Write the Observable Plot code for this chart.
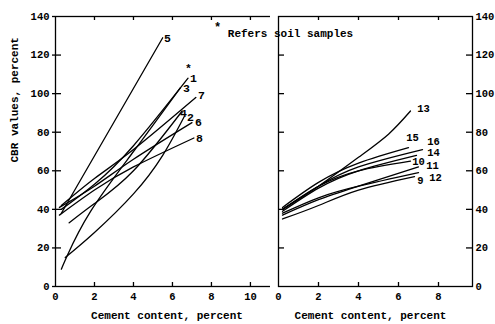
<!DOCTYPE html>
<html><head><meta charset="utf-8">
<script src="https://cdn.jsdelivr.net/npm/d3@7"></script>
<script src="https://cdn.jsdelivr.net/npm/@observablehq/plot@0.6"></script>
<style>
body{margin:0;background:#fff;}
#wrap{position:relative;width:495px;height:324px;font-family:"Liberation Mono","DejaVu Sans Mono",monospace;font-weight:bold;color:#000;}
#left,#right{position:absolute;top:0;}
#left{left:0px}
#right{left:270px}
#note{position:absolute;left:214px;top:28px;font-size:11px;line-height:13px;white-space:nowrap;}
#note span{position:relative;top:-6px;font-size:12px;}
</style></head><body>
<div id="wrap"><div id="left"></div><div id="right"></div>
<div id="note"><span>*</span> Refers soil samples</div></div>
<script>
// ---- Data ----
const leftIds = ["1","2","3","4","5","6","7","8"];
const leftCement = [
  [0.3,2,4,6.8],
  [0.5,2,4,5.5,6.6],
  [0.3,0.6,1.8,4,6.4],
  [0.7,2,4,6.5],
  [0.3,5.5],
  [0.2,2,4,7],
  [0.3,2,4,7.2],
  [0.2,2,4,7.1]
];
const leftCBR = [
  [40,53,73,108],
  [15,28,48,68,88],
  [9,16,39,70,103],
  [33,43,60,91],
  [38,129],
  [41,52,66,85],
  [42,56,71,98],
  [37,50,62,77]
];
const rightIds = ["9","10","11","12","13","14","15","16"];
const rightCement = [
  [0.2,2,4,6.8],
  [0.2,2,4,6.6],
  [0.2,2,4,7],
  [0.2,2,4,7],
  [0.2,2,4,5.5,6.6],
  [0.2,2,4,6.9],
  [0.2,2,4,6.5],
  [0.2,2,4,7.2]
];
const rightCBR = [
  [35,42,50,57],
  [40,52,60,65],
  [37,45,52,62],
  [38,46,52,59],
  [40,52,67,79,91],
  [39,51,60,68],
  [41,54,64,72],
  [40,52,62,71]
];
// curve labels
const leftLabelText = ["5","*","1","3","7","4","2","6","8"];
const leftLabelX = [5.74,6.82,7.08,6.72,7.49,6.56,6.92,7.33,7.38];
const leftLabelY = [128.5,113,108,102.6,99,90,87.6,85,77];
const rightLabelText = ["13","15","16","14","10","11","12","9"];
const rightLabelX = [7.25,6.7,7.75,7.75,7.0,7.7,7.85,7.1];
const rightLabelY = [92,77,75,69.5,64.5,62.5,56.5,55];
// ticks
const yTicks = [0,20,40,60,80,100,120,140];
const yInnerTicks = [20,40,60,80,100,120];
const leftXTicks = [0,2,4,6,8,10];
const rightXTicks = [0,2,4,6,8];
const xLabel = "Cement content, percent";
const yLabel = "CBR values, percent";

function toRows(ids, xs, ys) {
  const rows = [];
  ids.forEach((id, i) => xs[i].forEach((x, j) => rows.push({id, x, y: ys[i][j]})));
  return rows;
}
const font = {fontFamily: '"Liberation Mono","DejaVu Sans Mono",monospace', fontSize: "10.5px", fontWeight: "bold", color: "#000", background: "white"};

const left = Plot.plot({
  width: 279, height: 324,
  marginLeft: 55, marginRight: 1, marginTop: 16, marginBottom: 38,
  x: {domain: [0, 11.44]},
  y: {domain: [0, 140]},
  style: font,
  marks: [
    Plot.frame({stroke: "#000", strokeWidth: 1.3}),
    Plot.axisX({ticks: leftXTicks, tickSize: 0, tickPadding: 6, label: null}),
    Plot.axisY({ticks: yTicks, tickSize: 3, tickPadding: 3, label: null, strokeWidth: 1.3}),
    Plot.tickX(leftXTicks.slice(1), {x: d => d, insetTop: 266, strokeWidth: 1.3}),
    Plot.tickX(leftXTicks.slice(1), {x: d => d, insetBottom: 266, strokeWidth: 1.3}),
    Plot.tickY(yInnerTicks, {y: d => d, insetRight: 217, strokeWidth: 1.3}),
    Plot.line(toRows(leftIds, leftCement, leftCBR), {x: "x", y: "y", z: "id", curve: "natural", stroke: "#000", strokeWidth: 1.3}),
    Plot.text(leftLabelText, {x: (d, i) => leftLabelX[i], y: (d, i) => leftLabelY[i], text: d => d, fontSize: 11.5}),
    Plot.text([yLabel], {frameAnchor: "left", rotate: -90, dx: -41, dy: 11, fontSize: 11}),
    Plot.text([xLabel], {frameAnchor: "bottom", dy: 32, fontSize: 11})
  ]
});
document.getElementById("left").appendChild(left);

const right = Plot.plot({
  width: 225, height: 324,
  marginLeft: 8, marginRight: 23, marginTop: 16, marginBottom: 38,
  x: {domain: [0, 9.7]},
  y: {domain: [0, 140]},
  style: font,
  marks: [
    Plot.frame({stroke: "#000", strokeWidth: 1.3}),
    Plot.axisX({ticks: rightXTicks, tickSize: 0, tickPadding: 6, label: null}),
    Plot.axisY({anchor: "right", ticks: yTicks, tickSize: 0, tickPadding: 3, label: null}),
    Plot.tickX(rightXTicks.slice(1), {x: d => d, insetTop: 266, strokeWidth: 1.3}),
    Plot.tickX(rightXTicks.slice(1), {x: d => d, insetBottom: 266, strokeWidth: 1.3}),
    Plot.tickY(yInnerTicks, {y: d => d, insetRight: 188, strokeWidth: 1.3}),
    Plot.tickY(yInnerTicks, {y: d => d, insetLeft: 188, strokeWidth: 1.3}),
    Plot.line(toRows(rightIds, rightCement, rightCBR), {x: "x", y: "y", z: "id", curve: "natural", stroke: "#000", strokeWidth: 1.3}),
    Plot.text(rightLabelText, {x: (d, i) => rightLabelX[i], y: (d, i) => rightLabelY[i], text: d => d, fontSize: 10.5}),
    Plot.text([xLabel], {frameAnchor: "bottom", dy: 32, dx: -5, fontSize: 11})
  ]
});
document.getElementById("right").appendChild(right);
</script>
</body></html>
